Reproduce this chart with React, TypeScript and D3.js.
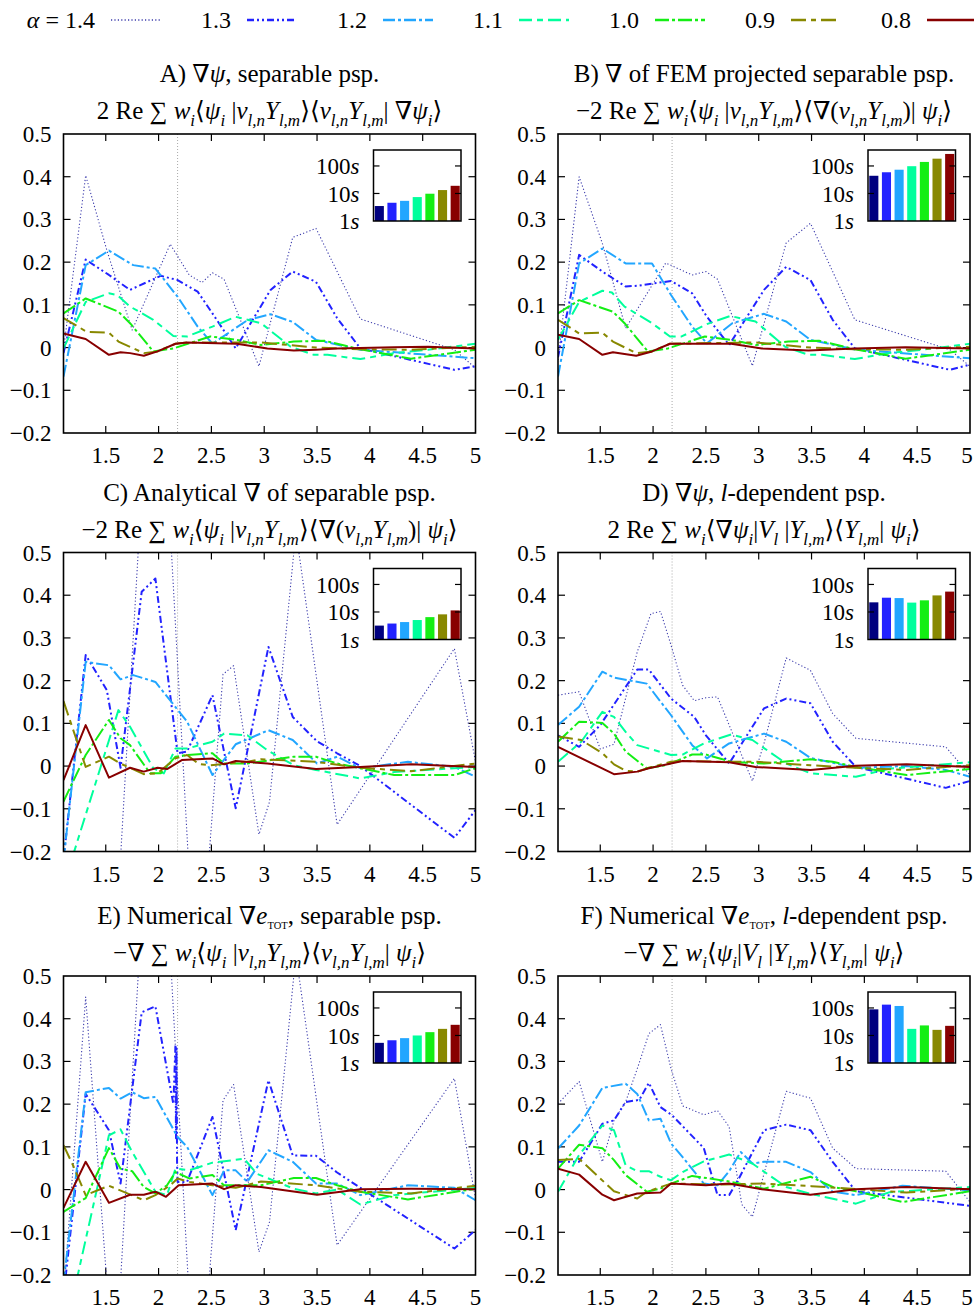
import * as d3 from "d3";

type Pt = [number, number];
type Seg = [string, string];

// legend / series styling
const ALPHAS = ["1.4", "1.3", "1.2", "1.1", "1.0", "0.9", "0.8"];
const COLORS = ["#3c3cac", "#2222ff", "#22a6ff", "#00ff9c", "#14ee14", "#888800", "#880000"];
const BAR_COLORS = ["#00007f", "#2222ff", "#22a6ff", "#00ff9c", "#14ee14", "#888800", "#880000"];
const DASHES = ["1.2,2.2", "7,3,2,3,2,3", "12,3,3,3", "13,5,6,5", "14,3,3,3", "15,5,5,5", ""];
const WIDTHS = [1.1, 2, 2, 2, 2, 2, 2];

const X_TICKS = [1.5, 2, 2.5, 3, 3.5, 4, 4.5, 5];
const Y_TICKS = [-0.2, -0.1, 0, 0.1, 0.2, 0.3, 0.4, 0.5];
const REF_X = 2.18;
const TIME_TICKS = [1, 10, 100];
const TIME_LABELS = ["1", "10", "100"];

// A) grad psi, separable
const PA_14: Pt[] = [[1.10,-0.005],[1.31,0.403],[1.51,0.228],[1.75,0.041],[2.11,0.242],[2.29,0.170],[2.41,0.152],[2.51,0.175],[2.62,0.160],[2.95,-0.044],[3.27,0.258],[3.49,0.279],[3.91,0.067],[4.80,-0.005],[5.0,-0.048]];
const PA_13: Pt[] = [[1.10,-0.013],[1.31,0.206],[1.53,0.170],[1.73,0.135],[2.02,0.168],[2.18,0.158],[2.37,0.131],[2.51,0.080],[2.73,-0.002],[3.06,0.135],[3.27,0.178],[3.49,0.154],[3.69,0.069],[3.91,-0.002],[4.80,-0.052],[5.0,-0.044]];
const PA_12: Pt[] = [[1.10,-0.068],[1.31,0.193],[1.53,0.227],[1.76,0.193],[1.97,0.185],[2.18,0.119],[2.37,0.049],[2.51,0.009],[2.84,0.064],[3.06,0.078],[3.27,0.060],[3.49,0.018],[3.91,-0.005],[5.0,-0.025]];
const PA_11: Pt[] = [[1.10,-0.002],[1.31,0.107],[1.53,0.127],[1.61,0.123],[1.73,0.096],[1.95,0.065],[2.14,0.027],[2.27,0.026],[2.51,0.049],[2.73,0.072],[2.97,0.057],[3.25,0.002],[3.47,-0.017],[3.60,-0.017],[3.91,-0.027],[4.23,-0.013],[4.55,-0.005],[5.0,0.009]];
const PA_10: Pt[] = [[1.10,0.080],[1.31,0.115],[1.62,0.084],[1.73,0.057],[1.95,-0.009],[2.14,-0.002],[2.49,0.026],[2.74,0.018],[2.97,0.006],[3.28,0.014],[3.57,0.016],[3.91,-0.004],[4.39,-0.026],[5.0,-0.005]];
const PA_09: Pt[] = [[1.10,0.069],[1.32,0.037],[1.53,0.035],[1.62,0.014],[1.86,-0.013],[1.99,-0.009],[2.16,0.009],[2.27,0.012],[2.97,0.012],[3.49,0.0],[3.91,-0.004],[4.39,-0.005],[5.0,0.002]];
const PA_08: Pt[] = [[1.10,0.033],[1.31,0.020],[1.53,-0.017],[1.64,-0.011],[1.73,-0.013],[1.86,-0.019],[1.99,-0.009],[2.16,0.009],[2.27,0.012],[2.74,0.009],[3.03,-0.002],[3.28,-0.007],[3.49,-0.005],[3.69,-0.002],[4.23,0.001],[4.55,0.002],[5.0,-0.002]];
const PA_TIMES = [3.5, 4.6, 5.4, 7.4, 9.8, 13.3, 19];

// B) grad of FEM projected separable
const PB_14: Pt[] = [[1.10,-0.029],[1.30,0.400],[1.52,0.244],[1.74,0.045],[2.12,0.198],[2.37,0.170],[2.50,0.178],[2.61,0.160],[2.94,-0.043],[3.26,0.245],[3.49,0.291],[3.91,0.065],[4.81,-0.005],[5.0,-0.044]];
const PB_13: Pt[] = [[1.10,-0.023],[1.30,0.217],[1.52,0.178],[1.74,0.143],[1.86,0.145],[2.17,0.156],[2.37,0.127],[2.51,0.072],[2.72,0.006],[3.05,0.135],[3.26,0.189],[3.49,0.158],[3.70,0.065],[3.91,-0.002],[4.81,-0.052],[5.0,-0.040]];
const PB_12: Pt[] = [[1.10,-0.068],[1.30,0.197],[1.52,0.232],[1.74,0.197],[1.99,0.197],[2.17,0.123],[2.37,0.049],[2.51,0.010],[2.75,0.057],[3.05,0.079],[3.26,0.061],[3.49,0.018],[3.92,-0.005],[5.0,-0.025]];
const PB_11: Pt[] = [[1.10,0.018],[1.30,0.107],[1.52,0.133],[1.61,0.129],[1.73,0.096],[1.99,0.057],[2.16,0.026],[2.27,0.026],[2.51,0.055],[2.73,0.074],[2.97,0.061],[3.25,0.002],[3.47,-0.017],[3.60,-0.017],[3.91,-0.027],[4.23,-0.013],[4.55,-0.005],[5.0,0.009]];
const PB_10: Pt[] = [[1.10,0.080],[1.30,0.111],[1.62,0.084],[1.73,0.057],[1.95,-0.009],[2.14,-0.002],[2.49,0.026],[2.74,0.018],[2.97,0.006],[3.28,0.014],[3.57,0.016],[3.91,-0.004],[4.39,-0.026],[5.0,-0.005]];
const PB_09: Pt[] = [[1.10,0.065],[1.30,0.033],[1.52,0.035],[1.62,0.014],[1.84,-0.013],[1.99,-0.009],[2.16,0.009],[2.97,0.012],[3.49,0.0],[3.91,-0.004],[4.39,-0.005],[5.0,0.002]];
const PB_08: Pt[] = [[1.10,0.030],[1.30,0.020],[1.52,-0.017],[1.62,-0.011],[1.84,-0.019],[1.99,-0.009],[2.16,0.009],[2.74,0.009],[3.03,-0.002],[3.47,-0.007],[3.91,-0.002],[4.39,0.001],[5.0,-0.002]];
const PB_TIMES = [44, 59, 73, 98, 140, 184, 273];

// C) analytical grad of separable
const PC_14: Pt[] = [[1.10,-0.35],[1.30,-0.5],[1.62,-0.3],[1.83,0.6],[2.10,0.6],[2.30,-0.3],[2.45,-0.3],[2.61,0.215],[2.71,0.235],[2.95,-0.16],[3.05,-0.084],[3.30,0.55],[3.69,-0.137],[4.80,0.275],[5.0,0.01]];
const PC_13: Pt[] = [[1.10,-0.22],[1.31,0.260],[1.51,0.178],[1.64,-0.004],[1.84,0.408],[1.97,0.439],[2.18,0.030],[2.27,0.034],[2.51,0.166],[2.73,-0.099],[3.04,0.279],[3.27,0.115],[3.50,0.058],[3.69,0.030],[3.91,0.0],[4.80,-0.168],[5.0,-0.103]];
const PC_12: Pt[] = [[1.10,-0.22],[1.31,0.244],[1.53,0.236],[1.64,0.203],[1.76,0.213],[1.97,0.197],[2.27,0.104],[2.51,-0.021],[2.73,0.051],[3.04,0.084],[3.27,0.061],[3.50,0.006],[3.69,0.022],[3.91,-0.005],[4.36,0.010],[4.80,-0.002],[5.0,-0.025]];
const PC_11: Pt[] = [[1.10,-0.28],[1.62,0.131],[1.73,0.092],[1.95,-0.005],[2.05,-0.017],[2.16,0.041],[2.27,0.041],[2.51,0.057],[2.62,0.076],[2.84,0.072],[3.03,0.037],[3.28,0.002],[3.49,-0.009],[3.91,-0.029],[4.23,-0.014],[5.0,-0.002]];
const PC_10: Pt[] = [[1.10,-0.083],[1.31,0.026],[1.53,0.108],[1.64,0.065],[1.73,0.049],[1.92,-0.017],[2.02,-0.017],[2.16,0.022],[2.27,0.026],[2.51,0.030],[2.62,0.006],[2.84,0.006],[3.28,0.022],[3.49,0.022],[3.69,0.006],[3.91,-0.005],[4.23,-0.021],[4.80,-0.021],[5.0,-0.005]];
const PC_09: Pt[] = [[1.10,0.152],[1.31,-0.002],[1.53,0.022],[1.64,0.006],[1.86,-0.019],[1.99,-0.017],[2.16,0.018],[2.27,0.026],[2.38,0.005],[2.49,0.002],[2.84,0.010],[2.97,0.016],[3.49,0.010],[3.91,-0.004],[4.39,-0.012],[5.0,0.006]];
const PC_08: Pt[] = [[1.10,-0.033],[1.31,0.096],[1.53,-0.027],[1.73,-0.004],[1.86,-0.013],[1.99,-0.004],[2.08,-0.007],[2.22,0.014],[2.51,0.018],[2.62,0.004],[2.73,0.012],[3.03,0.006],[3.49,-0.007],[3.91,-0.002],[4.39,0.004],[5.0,-0.002]];
const PC_TIMES = [3.2, 3.8, 4.3, 5.1, 6.5, 8.2, 11.4];

// D) grad psi, l-dependent
const PD_14: Pt[] = [[1.10,0.166],[1.30,0.174],[1.50,0.040],[1.63,0.051],[1.85,0.267],[1.98,0.357],[2.07,0.362],[2.17,0.283],[2.28,0.189],[2.39,0.153],[2.50,0.160],[2.61,0.162],[2.72,0.096],[2.94,-0.035],[3.05,0.053],[3.26,0.253],[3.49,0.224],[3.70,0.123],[3.92,0.065],[4.77,0.045],[5.0,-0.021]];
const PD_13: Pt[] = [[1.10,0.072],[1.30,0.045],[1.50,0.096],[1.70,0.170],[1.85,0.226],[1.96,0.226],[2.17,0.158],[2.39,0.115],[2.50,0.072],[2.72,0.006],[3.05,0.135],[3.26,0.158],[3.49,0.147],[3.70,0.057],[3.92,-0.002],[4.77,-0.051],[5.0,-0.035]];
const PD_12: Pt[] = [[1.10,0.096],[1.30,0.139],[1.52,0.221],[1.63,0.207],[1.94,0.193],[2.17,0.119],[2.37,0.049],[2.51,0.018],[2.72,0.053],[3.05,0.076],[3.26,0.057],[3.49,0.019],[3.92,-0.004],[4.40,0.0],[4.77,-0.009],[5.0,-0.025]];
const PD_11: Pt[] = [[1.10,0.010],[1.32,0.057],[1.52,0.127],[1.63,0.115],[1.74,0.080],[1.85,0.049],[2.17,0.026],[2.28,0.027],[2.48,0.053],[2.74,0.074],[2.94,0.061],[3.26,0.006],[3.49,-0.017],[3.92,-0.025],[4.24,-0.006],[5.0,0.009]];
const PD_10: Pt[] = [[1.10,0.057],[1.30,0.104],[1.52,0.101],[1.63,0.076],[1.74,0.034],[1.94,-0.005],[2.12,0.002],[2.37,0.027],[2.50,0.027],[2.74,0.010],[3.05,0.006],[3.49,0.016],[3.70,0.010],[3.92,-0.002],[4.40,-0.021],[5.0,-0.007]];
const PD_09: Pt[] = [[1.10,0.069],[1.32,0.061],[1.52,0.030],[1.63,0.004],[1.74,-0.011],[1.85,-0.013],[1.96,-0.004],[2.17,0.010],[2.28,0.012],[2.66,0.010],[2.97,0.010],[3.49,0.002],[3.92,-0.004],[4.40,-0.009],[5.0,0.002]];
const PD_08: Pt[] = [[1.10,0.045],[1.63,-0.019],[1.85,-0.013],[1.96,-0.005],[2.17,0.006],[2.28,0.012],[2.72,0.009],[2.97,-0.002],[3.49,-0.009],[3.92,0.001],[4.40,0.004],[5.0,-0.002]];
const PD_TIMES = [22.4, 33, 32, 21.9, 26.5, 40, 55];

// E) numerical grad e_tot, separable
const PE_14: Pt[] = [[1.10,-0.25],[1.31,0.451],[1.55,-0.35],[1.62,-0.3],[1.83,0.6],[2.10,0.6],[2.30,-0.3],[2.45,-0.3],[2.61,0.209],[2.71,0.246],[2.95,-0.146],[3.05,-0.076],[3.30,0.55],[3.69,-0.130],[4.80,0.260],[5.0,-0.021]];
const PE_13: Pt[] = [[1.10,-0.25],[1.31,0.224],[1.53,0.139],[1.64,0.014],[1.84,0.415],[1.97,0.429],[2.14,0.20],[2.16,0.34],[2.165,0.12],[2.17,0.33],[2.175,0.06],[2.18,0.018],[2.27,0.018],[2.51,0.170],[2.73,-0.095],[3.04,0.256],[3.27,0.080],[3.49,0.079],[3.69,0.040],[3.91,0.004],[4.80,-0.138],[5.0,-0.095]];
const PE_12: Pt[] = [[1.10,-0.22],[1.31,0.228],[1.53,0.238],[1.64,0.213],[1.75,0.228],[1.86,0.214],[1.97,0.217],[2.18,0.123],[2.27,0.100],[2.51,-0.013],[2.62,0.045],[2.73,0.045],[2.84,0.018],[3.04,0.092],[3.27,0.065],[3.49,0.014],[3.69,0.014],[3.91,-0.013],[4.36,0.010],[4.80,0.004],[5.0,-0.025]];
const PE_11: Pt[] = [[1.10,-0.35],[1.53,0.127],[1.64,0.141],[1.75,0.088],[1.97,-0.005],[2.08,-0.013],[2.16,0.049],[2.29,0.045],[2.51,0.063],[2.81,0.072],[2.93,0.037],[3.28,0.002],[3.49,-0.009],[3.69,0.0],[3.91,-0.035],[4.23,-0.013],[5.0,0.004]];
const PE_10: Pt[] = [[1.10,-0.052],[1.31,-0.020],[1.53,0.097],[1.64,0.049],[1.75,0.043],[1.86,0.006],[1.97,-0.009],[2.08,0.010],[2.16,0.041],[2.29,0.026],[2.51,0.034],[2.62,0.010],[2.97,0.010],[3.28,0.027],[3.49,0.027],[3.69,0.010],[3.91,-0.005],[4.36,-0.023],[5.0,0.002]];
const PE_09: Pt[] = [[1.10,0.104],[1.19,0.057],[1.31,-0.013],[1.53,0.009],[1.86,-0.025],[1.97,-0.013],[2.11,0.010],[2.18,0.026],[2.29,0.018],[2.51,0.010],[2.73,0.004],[2.97,0.019],[3.49,0.010],[3.91,-0.005],[4.39,-0.009],[5.0,0.009]];
const PE_08: Pt[] = [[1.10,-0.043],[1.31,0.065],[1.53,-0.031],[1.73,-0.012],[1.86,-0.012],[1.97,-0.005],[2.07,-0.017],[2.19,0.010],[2.51,0.014],[2.62,0.001],[2.73,0.010],[2.97,0.006],[3.50,-0.012],[3.91,0.001],[4.39,0.002],[5.0,0.001]];
const PE_TIMES = [5.4, 6.7, 8, 10, 13.2, 17.4, 24.4];

// F) numerical grad e_tot, l-dependent
const PF_14: Pt[] = [[1.10,0.201],[1.30,0.253],[1.52,0.065],[1.63,0.162],[1.74,0.205],[1.86,0.290],[1.96,0.365],[2.07,0.386],[2.17,0.283],[2.28,0.196],[2.48,0.175],[2.61,0.185],[2.72,0.147],[2.84,-0.035],[2.94,-0.064],[3.26,0.230],[3.49,0.214],[3.70,0.097],[3.92,0.049],[4.77,0.043],[5.0,-0.029]];
const PF_13: Pt[] = [[1.10,0.065],[1.30,0.065],[1.52,0.154],[1.63,0.162],[1.74,0.205],[1.87,0.210],[1.96,0.250],[2.07,0.193],[2.18,0.174],[2.48,0.097],[2.61,-0.013],[2.72,-0.013],[2.81,0.025],[3.05,0.139],[3.26,0.152],[3.49,0.139],[3.70,0.065],[3.92,-0.004],[5.0,-0.038]];
const PF_12: Pt[] = [[1.10,0.096],[1.30,0.150],[1.52,0.238],[1.74,0.248],[1.85,0.224],[1.96,0.162],[2.07,0.166],[2.17,0.108],[2.28,0.076],[2.48,0.014],[2.61,0.010],[2.72,0.043],[2.83,0.088],[2.94,0.061],[3.05,0.065],[3.26,0.065],[3.49,0.041],[3.70,-0.005],[3.92,-0.013],[4.36,0.009],[5.0,-0.002]];
const PF_11: Pt[] = [[1.10,-0.005],[1.30,0.081],[1.52,0.150],[1.63,0.139],[1.74,0.057],[1.85,0.043],[1.96,0.043],[2.07,0.030],[2.17,0.022],[2.28,0.041],[2.48,0.066],[2.72,0.082],[2.94,0.061],[3.26,0.006],[3.49,-0.010],[3.92,-0.033],[4.24,-0.006],[5.0,0.006]];
const PF_10: Pt[] = [[1.10,0.049],[1.30,0.105],[1.52,0.097],[1.63,0.069],[1.74,0.034],[1.94,-0.005],[2.07,0.002],[2.17,0.014],[2.37,0.032],[2.72,0.019],[3.05,0.002],[3.49,0.030],[3.70,0.006],[3.92,-0.004],[4.36,-0.029],[5.0,-0.004]];
const PF_09: Pt[] = [[1.10,0.069],[1.30,0.072],[1.63,-0.004],[1.85,-0.021],[1.94,-0.005],[2.17,0.014],[2.66,0.012],[3.05,0.014],[3.50,0.008],[3.92,0.001],[4.40,-0.007],[5.0,0.002]];
const PF_08: Pt[] = [[1.10,0.049],[1.30,0.035],[1.52,-0.012],[1.63,-0.025],[1.85,-0.009],[2.07,-0.007],[2.17,0.014],[2.50,0.010],[2.72,0.014],[3.03,0.001],[3.49,-0.012],[3.92,0.001],[4.40,0.006],[5.0,0.001]];
const PF_TIMES = [89, 132, 118, 17.4, 23.2, 16, 22.4];

// titles: [text, flags]  i = italic, s = subscript, t = tiny subscript
const BRA_NU: Seg[] = [["ν","i"],["l,n","si"],["Y","i"],["l,m","si"]];
const PSI_I: Seg[] = [["ψ","i"],["i","si"]];
const W_I: Seg[] = [["w","i"],["i","si"]];

const T1_A: Seg[] = [["A) ∇",""],["ψ","i"],[", separable psp.",""]];
const T2_A: Seg[] = [["2 Re ∑ ",""],...W_I,["⟨",""],...PSI_I,[" |",""],...BRA_NU,["⟩⟨",""],...BRA_NU,["| ∇",""],...PSI_I,["⟩",""]];
const T1_B: Seg[] = [["B) ∇ of FEM projected separable psp.",""]];
const T2_B: Seg[] = [["−2 Re ∑ ",""],...W_I,["⟨",""],...PSI_I,[" |",""],...BRA_NU,["⟩⟨∇(",""],...BRA_NU,[")| ",""],...PSI_I,["⟩",""]];
const T1_C: Seg[] = [["C) Analytical ∇ of separable psp.",""]];
const T1_D: Seg[] = [["D) ∇",""],["ψ","i"],[", ",""],["l","i"],["-dependent psp.",""]];
const T2_D: Seg[] = [["2 Re ∑ ",""],...W_I,["⟨∇",""],...PSI_I,["|",""],["V","i"],["l","si"],[" |",""],["Y","i"],["l,m","si"],["⟩⟨",""],["Y","i"],["l,m","si"],["| ",""],...PSI_I,["⟩",""]];
const T1_E: Seg[] = [["E) Numerical ∇",""],["e","i"],["TOT","t"],[", separable psp.",""]];
const T2_E: Seg[] = [["−∇ ∑ ",""],...W_I,["⟨",""],...PSI_I,[" |",""],...BRA_NU,["⟩⟨",""],...BRA_NU,["| ",""],...PSI_I,["⟩",""]];
const T1_F: Seg[] = [["F) Numerical ∇",""],["e","i"],["TOT","t"],[", ",""],["l","i"],["-dependent psp.",""]];
const T2_F: Seg[] = [["−∇ ∑ ",""],...W_I,["⟨",""],...PSI_I,["|",""],["V","i"],["l","si"],[" |",""],["Y","i"],["l,m","si"],["⟩⟨",""],["Y","i"],["l,m","si"],["| ",""],...PSI_I,["⟩",""]];

const PANELS = [
  { id: "A", row: 0, col: 0, t1: T1_A, t2: T2_A, series: [PA_14, PA_13, PA_12, PA_11, PA_10, PA_09, PA_08], times: PA_TIMES },
  { id: "B", row: 0, col: 1, t1: T1_B, t2: T2_B, series: [PB_14, PB_13, PB_12, PB_11, PB_10, PB_09, PB_08], times: PB_TIMES },
  { id: "C", row: 1, col: 0, t1: T1_C, t2: T2_B, series: [PC_14, PC_13, PC_12, PC_11, PC_10, PC_09, PC_08], times: PC_TIMES },
  { id: "D", row: 1, col: 1, t1: T1_D, t2: T2_D, series: [PD_14, PD_13, PD_12, PD_11, PD_10, PD_09, PD_08], times: PD_TIMES },
  { id: "E", row: 2, col: 0, t1: T1_E, t2: T2_E, series: [PE_14, PE_13, PE_12, PE_11, PE_10, PE_09, PE_08], times: PE_TIMES },
  { id: "F", row: 2, col: 1, t1: T1_F, t2: T2_F, series: [PF_14, PF_13, PF_12, PF_11, PF_10, PF_09, PF_08], times: PF_TIMES },
];

// layout
const W = 974, H = 1309;
const COL_LEFT = [63.5, 558];
const ROW_TOP = [134, 552.5, 976];
const PW = 412, PH = 299;
const FONT = "Liberation Serif, Times New Roman, Times, DejaVu Serif, serif";

function MathText({ x, y, segs, size }: { x: number; y: number; segs: Seg[]; size: number }) {
  let cur = 0;
  const spans = segs.map(([t, f], k) => {
    const sub = f.includes("s");
    const tiny = f.includes("t");
    const target = sub ? size * 0.28 : tiny ? size * 0.2 : 0;
    const dy = target - cur;
    cur = target;
    return (
      <tspan key={k} dy={dy} fontStyle={f.includes("i") ? "italic" : "normal"}
        fontSize={sub ? size * 0.68 : tiny ? size * 0.42 : size}>{t}</tspan>
    );
  });
  return <text x={x} y={y} textAnchor="middle" fontSize={size} style={{ fontFamily: FONT }}>{spans}</text>;
}

const fmtTick = (v: number) => String(v).replace("-", "−");

function Panel({ p }: { p: typeof PANELS[number] }) {
  const left = COL_LEFT[p.col], top = ROW_TOP[p.row];
  const x = d3.scaleLinear().domain([1.1, 5.0]).range([left, left + PW]);
  const y = d3.scaleLinear().domain([-0.2, 0.5]).range([top + PH, top]);
  const line = d3.line<Pt>().x(d => x(d[0])).y(d => y(d[1]));
  const clipId = "clip" + p.id;
  const tk = 7;

  // inset bar chart of timings
  const ix0 = left + 310, iy0 = top + 16, iw = 87.5, ih = 71;
  const bx = d3.scaleBand<number>().domain(d3.range(7)).range([ix0, ix0 + iw]).paddingInner(0.28).paddingOuter(0.1);
  const by = d3.scaleLog().domain([1, 380]).range([iy0 + ih, iy0]);

  const cx = left + PW / 2;
  return (
    <g>
      <MathText x={cx} y={top - 52} segs={p.t1} size={25} />
      <MathText x={cx} y={top - 15} segs={p.t2} size={25} />
      <defs>
        <clipPath id={clipId}><rect x={left} y={top} width={PW} height={PH} /></clipPath>
      </defs>
      {X_TICKS.filter(v => v < 5).map(v => (
        <g key={"xt" + v} stroke="#000" strokeWidth={1.2}>
          <line x1={x(v)} x2={x(v)} y1={top + PH} y2={top + PH - tk} />
          <line x1={x(v)} x2={x(v)} y1={top} y2={top + tk} />
        </g>
      ))}
      {Y_TICKS.filter(v => v > -0.2 && v < 0.5).map(v => (
        <g key={"yt" + v} stroke="#000" strokeWidth={1.2}>
          <line x1={left} x2={left + tk} y1={y(v)} y2={y(v)} />
          <line x1={left + PW} x2={left + PW - tk} y1={y(v)} y2={y(v)} />
        </g>
      ))}
      {X_TICKS.map(v => (
        <text key={"xl" + v} x={Math.min(x(v), W - 7)} y={top + PH + 30} textAnchor="middle" fontSize={23}
          style={{ fontFamily: FONT }}>{fmtTick(v)}</text>
      ))}
      {Y_TICKS.map(v => (
        <text key={"yl" + v} x={left - 12} y={y(v)} dy="0.35em" textAnchor="end" fontSize={23}
          style={{ fontFamily: FONT }}>{fmtTick(v)}</text>
      ))}
      <line x1={x(REF_X)} x2={x(REF_X)} y1={top} y2={top + PH} stroke="#aaa" strokeWidth={1} strokeDasharray="1,2" />
      <g clipPath={`url(#${clipId})`}>
        {p.series.map((s, i) => (
          <path key={i} d={line(s) || ""} fill="none" stroke={COLORS[i]} strokeWidth={WIDTHS[i]}
            strokeDasharray={DASHES[i] || undefined} strokeLinejoin="round" />
        ))}
      </g>
      <rect x={left} y={top} width={PW} height={PH} fill="none" stroke="#000" strokeWidth={1.6} />
      <rect x={ix0} y={iy0} width={iw} height={ih} fill="#fff" />
      {p.times.map((t, i) => (
        <rect key={i} x={bx(i)} y={by(t)} width={bx.bandwidth()} height={iy0 + ih - by(t)} fill={BAR_COLORS[i]} />
      ))}
      {TIME_TICKS.map((t, i) => (
        <g key={"it" + t}>
          {t > 1 && <line x1={ix0} x2={ix0 + 6} y1={by(t)} y2={by(t)} stroke="#000" strokeWidth={1.2} />}
          {t > 1 && <line x1={ix0 + iw} x2={ix0 + iw - 6} y1={by(t)} y2={by(t)} stroke="#000" strokeWidth={1.2} />}
          <text x={ix0 - 14} y={by(t)} dy="0.35em" textAnchor="end" fontSize={23} style={{ fontFamily: FONT }}>
            {TIME_LABELS[i]}<tspan fontStyle="italic">s</tspan>
          </text>
        </g>
      ))}
      <rect x={ix0} y={iy0} width={iw} height={ih} fill="none" stroke="#000" strokeWidth={1.5} />
    </g>
  );
}

function Legend() {
  const step = 136, lx = 95;
  return (
    <g>
      {ALPHAS.map((a, i) => {
        const end = lx + i * step;
        return (
          <g key={a}>
            <text x={end} y={28} textAnchor="end" fontSize={24} style={{ fontFamily: FONT }}>
              {i === 0 && <tspan fontStyle="italic">α</tspan>}
              {i === 0 ? " = " + a : a}
            </text>
            <line x1={end + 16} x2={end + 66} y1={20} y2={20} stroke={COLORS[i]} strokeWidth={WIDTHS[i] + 0.5}
              strokeDasharray={DASHES[i] || undefined} />
          </g>
        );
      })}
    </g>
  );
}

export default function App() {
  return (
    <svg width={W} height={H} style={{ position: "absolute", left: 0, top: 0, background: "#fff" }}>
      <rect width={W} height={H} fill="#fff" />
      <Legend />
      {PANELS.map(p => <Panel key={p.id} p={p} />)}
    </svg>
  );
}
